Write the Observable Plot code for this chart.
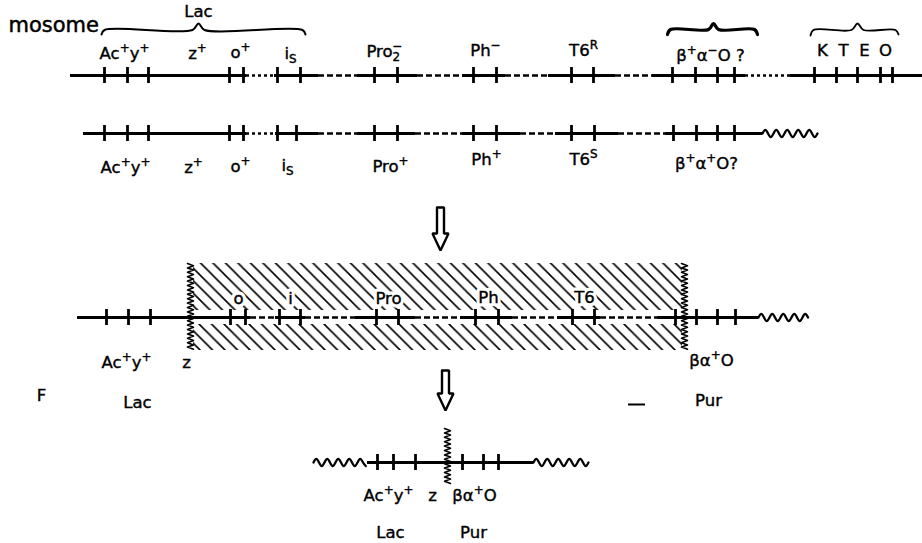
<!DOCTYPE html>
<html><head><meta charset="utf-8">
<script src="https://cdn.jsdelivr.net/npm/d3@7"></script>
<script src="https://cdn.jsdelivr.net/npm/@observablehq/plot@0.6"></script>
<style>html,body{margin:0;padding:0;background:#fff;} #chart svg{display:block;}</style>
</head><body><div id="chart"></div>
<script>
// ---- map data (diagram units) ----
const rowLevels = [75, 133, 317, 462];

const row1Segments = [[70,246,"solid"],[246,274,"dotted"],[274,318,"solid"],[318,357,"dashed"],[357,417,"solid"],[417,462,"dashed"],[462,505,"solid"],[505,548,"dashed"],[548,615,"solid"],[615,652,"dashed"],[652,745,"solid"],[745,790,"dotted"],[790,922,"solid"]];
const row2Segments = [[83,246,"solid"],[246,275,"dotted"],[275,318,"solid"],[318,357,"dashed"],[357,415,"solid"],[415,462,"dashed"],[462,520,"solid"],[520,555,"dashed"],[555,618,"solid"],[618,665,"dashed"],[665,762,"solid"]];
const row3Segments = [[77,250,"solid"],[250,275,"dashed"],[275,305,"solid"],[305,355,"dashed"],[355,415,"solid"],[415,460,"dashed"],[460,512,"solid"],[512,557,"dashed"],[557,600,"solid"],[600,657,"dashed"],[657,758,"solid"]];
const row4Segments = [[367,533,"solid"]];

const row1Ticks = [104,127,148,229,243,277,300,374,397,473,496,571,593,672,695,717,734,814,836,857,880,892];
const row2Ticks = [104,127,148,229,243,277,296,374,397,473,496,571,594,673,696,717,734];
const row3Ticks = [106,128,150,230,245,279,300,376,398,475,498,572,594,675,696,717,735];
const row4Ticks = [377,393,415,462,483,498];

const row2Waves = [[762,817]];
const row3Waves = [[758,810]];
const row4Waves = [[313,367],[533,590]];

// crossover points: [x, top, bottom]
const crossovers = [[190,263,350],[684,263,350],[447,428,483]];
// hatched (transferred) region: [x1, y1, x2, y2]
const hatchBox = [[193,263,682,350]];
// arrows: [x, top, headStart, tip]
const arrows = [[440,207,233,250],[445,370,393,410]];

// braces as point lists
const braceLac = [[101,34],[104,29.5],[192,29.5],[198,23],[204,29.5],[302,29.5],[305,34]];
const braceBeta = [[667,34],[670,29],[708,29],[713,23],[718,29],[754,29],[757,34]];
const braceKTEO = [[810,35],[813,29.5],[851,29.5],[857,23],[863,29.5],[895,29.5],[898,34]];

// labels: [text, x, baseline]
const row1Labels = [["Ac^+y^+",124,58],["z^+",197,58],["o^+",240,57],["i_S",290,58],["Pro_2^−",384,56],["Ph^−",485,55],["T6^R",583,55],["β^+α^−O ?",710,60]];
const kteoLabels = [["K",822,55],["T",843,55],["E",864,55],["O",885,55]];
const row2Labels = [["Ac^+y^+",125,172],["z^+",193,172],["o^+",240,171],["i_S",287,170],["Pro^+",390,171],["Ph^+",486,164],["T6^S",583,164],["β^+α^+O?",706,168]];
const boxLabels = [["o",238,303],["i",290,303],["Pro",388,303],["Ph",488,302],["T6",584,302]];
const row3Labels = [["Ac^+y^+",126,367],["z",186,367],["βα^+O",711,365],["F",41,400],["Lac",137,407],["Pur",708,405]];
const row4Labels = [["Ac^+y^+",388,500],["z",432,500],["βα^+O",474,500],["Lac",390,537],["Pur",473,537]];
const headLabels = [["Lac",198,16]];
const sideLabels = [["mosome",8,31]];
const strayMarks = [[628,645,404]];

// ---- build tables ----
const segRows = [row1Segments,row2Segments,row3Segments,row4Segments];
const segments = segRows.flatMap((r,i)=>r.map(s=>({x1:s[0],x2:s[1],kind:s[2],y:rowLevels[i]})));
const tickRows = [row1Ticks,row2Ticks,row3Ticks,row4Ticks];
const ticks = tickRows.flatMap((r,i)=>r.map(x=>({x,y:rowLevels[i]})));

const waveRows = [[row2Waves,rowLevels[1]],[row3Waves,rowLevels[2]],[row4Waves,rowLevels[3]]];
const wavePts = [];
let wid = 0;
waveRows.forEach(([ws,y])=>ws.forEach(([a,b])=>{
  const period = 11, amp = 3.6, step = period/4; let k = 0;
  for (let x=a; x<=b+0.01; x+=step, k++) wavePts.push({x, y: y + (k%4===1? -amp : k%4===3 ? amp : 0), id: wid});
  wid++;
}));
const zigPts = [];
crossovers.forEach(([x,t,b],i)=>{ let k=0; for (let y=t; y<=b; y+=2.2, k++) zigPts.push({x: x + (k%2? 3:-3), y, id:i}); });
const arrowPts = arrows.flatMap(([x,t,h,tip],i)=>[[x-3.5,t],[x+3.5,t],[x+3.5,h],[x+8,h],[x,tip],[x-8,h],[x-3.5,h],[x-3.5,t]].map(p=>({x:p[0],y:p[1],id:i})));
const braces = [[braceLac,2],[braceBeta,3.2],[braceKTEO,1.8]];
const lab = a => a.map(d=>({t:d[0],x:d[1],y:d[2]}));

const marks = [
  Plot.rect(hatchBox, {x1:d=>d[0], y1:d=>d[1], x2:d=>d[2], y2:d=>d[3], fill:"url(#hatch)"}),
  Plot.rect(hatchBox, {x1:d=>d[0], y1:d=>rowLevels[2]-7, x2:d=>d[2], y2:d=>rowLevels[2]+7, fill:"white"}),
  Plot.text(lab(boxLabels), {x:"x", y:"y", text:"t", fontSize:16, lineAnchor:"bottom", stroke:"white", strokeWidth:7, fill:"white"}),
  Plot.ruleY(segments.filter(d=>d.kind==="solid"), {x1:"x1", x2:"x2", y:"y", stroke:"black", strokeWidth:3}),
  Plot.ruleY(segments.filter(d=>d.kind==="dashed"), {x1:"x1", x2:"x2", y:"y", stroke:"black", strokeWidth:2.6, strokeDasharray:"6,3"}),
  Plot.ruleY(segments.filter(d=>d.kind==="dotted"), {x1:"x1", x2:"x2", y:"y", stroke:"black", strokeWidth:2.4, strokeDasharray:"3,3"}),
  Plot.ruleX(ticks, {x:"x", y1:d=>d.y-8, y2:d=>d.y+8, stroke:"black", strokeWidth:2.8}),
  Plot.line(wavePts, {x:"x", y:"y", z:"id", curve:"natural", stroke:"black", strokeWidth:2.3}),
  Plot.line(zigPts, {x:"x", y:"y", z:"id", stroke:"black", strokeWidth:1.6}),
  Plot.line(arrowPts, {x:"x", y:"y", z:"id", fill:"white", stroke:"black", strokeWidth:2.4, strokeLinejoin:"miter"}),
  ...braces.map(([pts,w])=>Plot.line(pts, {x:d=>d[0], y:d=>d[1], stroke:"black", strokeWidth:w, curve:"catmull-rom"})),
  Plot.ruleY(strayMarks, {x1:d=>d[0], x2:d=>d[1], y:d=>d[2], stroke:"black", strokeWidth:2}),
  Plot.text(lab([...boxLabels,...row1Labels,...kteoLabels,...row2Labels,...row3Labels,...row4Labels,...headLabels]), {x:"x", y:"y", text:"t", fontSize:16.5, lineAnchor:"bottom", fill:"black", stroke:"black", strokeWidth:0.4}),
  Plot.text(lab(sideLabels), {x:"x", y:"y", text:"t", fontSize:21, lineAnchor:"bottom", textAnchor:"start", fill:"black", stroke:"black", strokeWidth:0.5})
];

const chart = Plot.plot({
  width: 922, height: 543, margin: 0,
  x: {domain:[0,922], range:[0,922], axis:null},
  y: {domain:[0,543], range:[0,543], axis:null},
  style: {background:"white", fontFamily:"DejaVu Sans", color:"black"},
  marks
});
document.getElementById("chart").appendChild(chart);

// hatch pattern
const ns = "http://www.w3.org/2000/svg";
const defs = document.createElementNS(ns,"defs");
defs.innerHTML = '<pattern id="hatch" patternUnits="userSpaceOnUse" width="12.5" height="12.5"><path d="M-3,-3L15.5,15.5M-3,9.5L3,15.5M9.5,-3L15.5,3" stroke="black" stroke-width="1.6"/></pattern>';
chart.insertBefore(defs, chart.firstChild);

// superscripts / subscripts
chart.querySelectorAll("text").forEach(t=>{
  const s = t.textContent;
  if (!/[\^_]/.test(s)) return;
  const g = t.closest("[font-size]");
  const base = parseFloat(t.getAttribute("font-size") || (g && g.getAttribute("font-size"))) || 16;
  const toks = [];
  for (let i=0;i<s.length;i++){
    const c = s[i];
    if ((c==="^"||c==="_") && i+1<s.length){ toks.push({s:s[i+1], m:c==="^"?"sup":"sub"}); i++; }
    else if (toks.length && toks[toks.length-1].m==="n") toks[toks.length-1].s += c;
    else toks.push({s:c, m:"n"});
  }
  t.textContent = "";
  let cur = 0, prev = null;
  toks.forEach(tk=>{
    const sp = document.createElementNS(ns,"tspan");
    sp.textContent = tk.s;
    const target = tk.m==="sup" ? -0.42*base : tk.m==="sub" ? 0.28*base : 0;
    if (target!==cur) sp.setAttribute("dy", (target-cur).toFixed(2));
    cur = target;
    if (tk.m!=="n") sp.setAttribute("font-size", (0.72*base).toFixed(1));
    if (tk.m==="sup" && prev && prev.m==="sub") sp.setAttribute("dx", (-prev.el.getComputedTextLength()).toFixed(2));
    t.appendChild(sp);
    prev = {m:tk.m, el:sp};
  });
});
</script>
</body></html>
